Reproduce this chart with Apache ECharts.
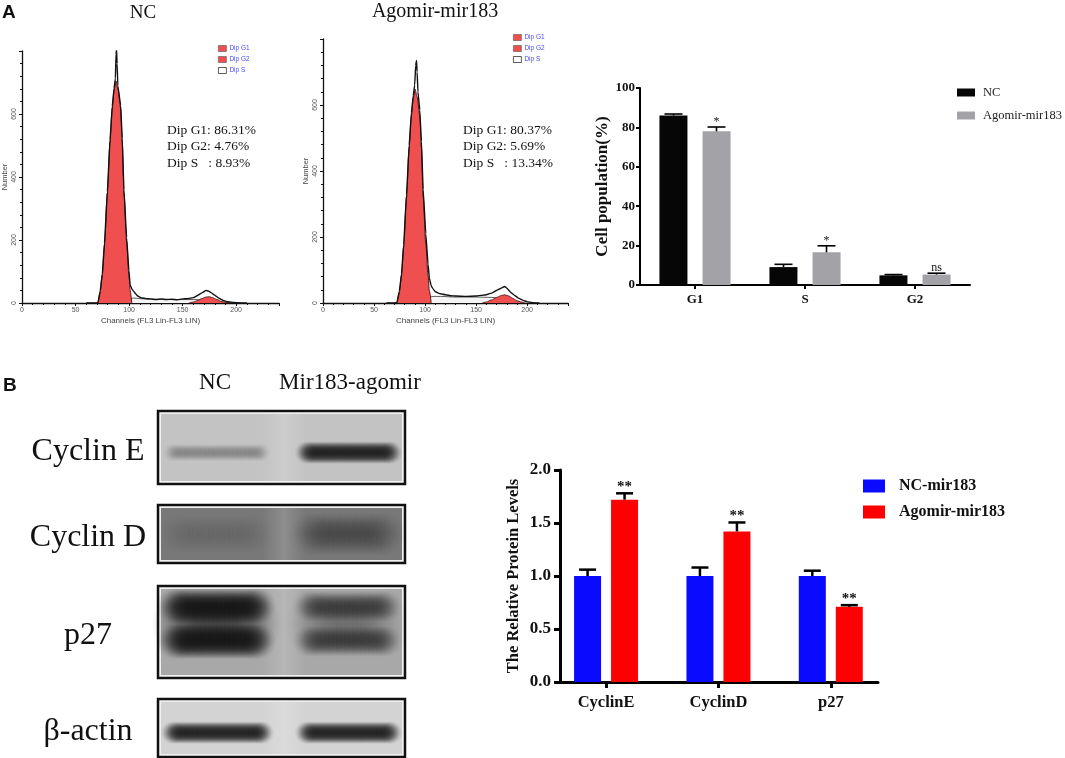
<!DOCTYPE html>
<html><head><meta charset="utf-8">
<script src="https://cdn.jsdelivr.net/npm/echarts@6/dist/echarts.min.js"></script>
<style>html,body{margin:0;padding:0;background:#fff}#c{width:1065px;height:758px}</style>
</head><body><div id="c"></div>
<script>
// ================= DATA =================
// Panel A – flow cytometry histograms (channel, count)
const ncTotalX = [60,70,71,73,75,77,79.7,82.2,84.3,86,87.2,87.8,88.3,88.8,89.5,92.1,93.6,95.2,97.7,99.8,101,102.5,104,106,108,112,116,120,125,130,135,140,145,150,155,160,164,168,172,174,176,180,184,188,192,196,200,210];
const ncTotalY = [0,0,2,37,92,188,353,518,625,682,712,790,805,760,690,628,523,360,208,104,58,45,38,30,22,16,14,13,11,13,11,12,10,13,14,17,24,32,40,38,34,25,15,8,4,2,1,0];
const ncG1X = [71,73,75,77,79.7,82.2,84.3,86,87.7,89.5,92.1,93.6,95.2,97.7,99.8,101,102.5];
const ncG1Y = [0,35,90,185,349,513,619,675,705,680,619,513,349,196,90,40,0];
const ncG2X = [156,160,164,168,172,175,178,182,186,190,194];
const ncG2Y = [0,3,8,14,19,20,17,11,5,2,0];
const ncSX = [76,80,90,100,104,110,120,130,140,150,160,170,178,184,190];
const ncSY = [0,2,6,12,16,14,12,11,11,11,11,10,7,3,0];

const agoTotalX = [62,70,72.5,74.8,76.9,79,81.8,84.4,86.6,88.4,89.8,90.8,91.6,92.2,93,94.8,96.4,98.1,100.7,102.9,104.2,106,108,110,115,120,125,130,140,150,160,165,170,174,178,180,184,188,192,196,200,205,212];
const agoTotalY = [0,0,2,36,88,176,328,478,576,628,660,720,735,700,640,585,490,345,210,118,75,52,42,34,28,25,22,21,20,21,25,30,38,44,50,45,32,22,14,8,4,1,0];
const agoG1X = [72.5,74.8,76.9,79,81.8,84.4,86.6,88.4,90.2,92.1,94.8,96.4,98.1,100.7,102.9,104.2,106];
const agoG1Y = [0,32,83,170,321,471,569,620,648,625,569,471,321,180,83,37,0];
const agoG2X = [156,160,165,170,175,178,182,186,190,194,198];
const agoG2Y = [0,3,9,17,23,25,21,14,7,3,0];
const agoSX = [74,80,90,100,104,108,115,130,150,165,175,185,190,196];
const agoSY = [0,3,8,14,18,20,20,18,18,17,14,6,3,0];

const ncStats = ['Dip G1: 86.31%', 'Dip G2: 4.76%', 'Dip S   : 8.93%'];
const agoStats = ['Dip G1: 80.37%', 'Dip G2: 5.69%', 'Dip S   : 13.34%'];

// Panel A – cell population bar chart
const phaseCategories = ['G1', 'S', 'G2'];
const cellNC = [86.0, 9.1, 4.9];
const cellNCErr = [0.8, 1.4, 0.4];
const cellAgo = [78.0, 16.6, 5.3];
const cellAgoErr = [2.2, 3.3, 0.7];
const cellSig = ['*', '*', 'ns'];

// Panel B – western blot band intensities (0..1)
const blotTargets = ['Cyclin E', 'Cyclin D', 'p27', '\u03b2-actin'];
const blotLanes = ['NC', 'Mir183-agomir'];
const blotNC = [0.22, 0.10, 1.0, 1.0];
const blotAgo = [1.0, 0.3, 0.5, 1.0];

// Panel B – relative protein levels
const proteinCategories = ['CyclinE', 'CyclinD', 'p27'];
const protNC = [1.0, 1.0, 1.0];
const protNCErr = [0.06, 0.08, 0.05];
const protAgo = [1.72, 1.42, 0.71];
const protAgoErr = [0.06, 0.085, 0.015];
const protSig = ['**', '**', '**'];

// ================= STYLE / LAYOUT =================
const serif = "'Liberation Serif','DejaVu Serif',serif";
const sans = "'Liberation Sans','DejaVu Sans',sans-serif";
const RED = '#f04f4f';
const pairs = (xs, ys) => xs.map((x, i) => [x, ys[i]]);

function histX(gi) {
  return {
    type: 'value', gridIndex: gi, min: 0, max: 240, interval: 50,
    axisLine: { show: true, lineStyle: { color: '#111', width: 1.3 } },
    axisTick: { show: true, length: 3, lineStyle: { color: '#111' } },
    minorTick: { show: true, splitNumber: 5, length: 2, lineStyle: { color: '#111' } },
    splitLine: { show: false }, minorSplitLine: { show: false },
    axisLabel: { fontSize: 7, color: '#555', margin: 4, fontFamily: sans, showMaxLabel: false },
    name: 'Channels (FL3 Lin-FL3 LIN)', nameLocation: 'middle', nameGap: 14,
    nameTextStyle: { fontSize: 8, color: '#444', fontFamily: sans }
  };
}
function histY(gi) {
  return {
    type: 'value', gridIndex: gi, min: 0, max: 800, interval: 200,
    axisLine: { show: true, lineStyle: { color: '#111', width: 1.3 } },
    axisTick: { show: true, length: 3, lineStyle: { color: '#111' } },
    minorTick: { show: true, splitNumber: 5, length: 2, lineStyle: { color: '#111' } },
    splitLine: { show: false }, minorSplitLine: { show: false },
    axisLabel: { fontSize: 7, color: '#555', margin: 4, rotate: 90, fontFamily: sans, showMaxLabel: false },
    name: 'Number', nameLocation: 'middle', nameGap: 13, nameRotate: 90,
    nameTextStyle: { fontSize: 7.5, color: '#444', fontFamily: sans }
  };
}
function histSeries(gi, sx, sy, g1x, g1y, g2x, g2y, tx, ty) {
  const common = { type: 'line', xAxisIndex: gi, yAxisIndex: gi, showSymbol: false, silent: true, smooth: 0.3, smoothMonotone: 'x' };
  return [
    Object.assign({}, common, { name: 'Dip S', data: pairs(sx, sy), z: 2, color: '#ffffff',
      lineStyle: { color: '#333', width: 0.8 }, areaStyle: { color: '#f4f4f4', opacity: 1 } }),
    Object.assign({}, common, { name: 'Dip G1', data: pairs(g1x, g1y), z: 3, color: RED,
      lineStyle: { color: '#3a1010', width: 0.9 }, areaStyle: { color: RED, opacity: 1 } }),
    Object.assign({}, common, { name: 'Dip G2', data: pairs(g2x, g2y), z: 3, color: RED,
      lineStyle: { color: '#3a1010', width: 0.8 }, areaStyle: { color: RED, opacity: 1 } }),
    Object.assign({}, common, { name: 'data' + gi, data: pairs(tx, ty), z: 4, smooth: 0.1,
      lineStyle: { color: '#111', width: 1.4 } })
  ];
}

function errorBars(name, gi, xs, vals, errs, sig, offset, capHalf, lw, sigFont, sigGap) {
  return {
    type: 'custom', name, xAxisIndex: gi, yAxisIndex: gi, z: 6, silent: true,
    encode: { x: 0, y: 1 },
    data: vals.map((v, i) => [xs[i], v, errs[i]]),
    renderItem(params, api) {
      const xv = api.value(0), v = api.value(1), e = api.value(2);
      const b = api.coord([xv, v]);
      const t = api.coord([xv, v + e]);
      const x = b[0] + offset;
      const children = [
        { type: 'line', shape: { x1: x, y1: b[1], x2: x, y2: t[1] }, style: { stroke: '#000', lineWidth: lw } },
        { type: 'line', shape: { x1: x - capHalf, y1: t[1], x2: x + capHalf, y2: t[1] }, style: { stroke: '#000', lineWidth: lw } }
      ];
      const s = sig ? sig[params.dataIndex] : '';
      if (s) children.push({ type: 'text', style: { text: s, x: x, y: t[1] - sigGap, align: 'center', textAlign: 'center',
        verticalAlign: 'middle', textVerticalAlign: 'middle', font: sigFont, fill: '#111' } });
      return { type: 'group', children };
    }
  };
}

// ---------- graphic: titles, annotations, blot ----------
function txt(text, x, y, font, align, fill) {
  return { type: 'text', silent: true, style: { text, x, y, font, fill: fill || '#111',
    align: align || 'center', textAlign: align || 'center', verticalAlign: 'middle', textVerticalAlign: 'middle' } };
}
const graphics = [];
graphics.push(txt('A', 2, 13, 'bold 19px ' + sans, 'left'));
graphics.push(txt('B', 3, 386, 'bold 19px ' + sans, 'left'));
graphics.push(txt('NC', 143, 13, '19px ' + serif));
graphics.push(txt('Agomir-mir183', 435, 12, '20px ' + serif));
ncStats.forEach((s, i) => graphics.push(txt(s, 167, 130 + i * 16.5, '13.5px ' + serif, 'left')));
agoStats.forEach((s, i) => graphics.push(txt(s, 463, 130 + i * 16.5, '13.5px ' + serif, 'left')));

// blot lane labels
const laneCenters = [215, 350];
blotLanes.forEach((l, i) => graphics.push(txt(l, laneCenters[i], 383, '23px ' + serif)));
// blot rows layout
const boxL = 158, boxR = 405;
const rowLayout = [
  { top: 411, h: 73, bg: '#c3c3c3', bands: [0.57], bh: 15 },
  { top: 505, h: 58, bg: '#787878', bands: [0.5], bh: 36 },
  { top: 586, h: 92, bg: '#a8a8a8', bands: [0.22, 0.6], bh: 24 },
  { top: 699, h: 58, bg: '#d3d3d3', bands: [0.58], bh: 15 }
];
const laneX = [[168, 267], [302, 396]];
// soft band: a dense row of overlapping blurred dots
function softBand(x1, x2, cy, h, a) {
  const r = h * 0.7, step = Math.max(2, h / 6);
  const p = Math.min(0.9, a * 0.36);
  for (let x = x1 + r * 0.35; x <= x2 - r * 0.35 + 0.1; x += step) {
    graphics.push({ type: 'circle', silent: true, shape: { cx: x, cy: cy, r: r },
      style: { fill: { type: 'radial', x: 0.5, y: 0.5, r: 0.5, colorStops: [
        { offset: 0, color: 'rgba(10,10,10,' + p.toFixed(3) + ')' },
        { offset: 0.45, color: 'rgba(10,10,10,' + (p * 0.7).toFixed(3) + ')' },
        { offset: 1, color: 'rgba(10,10,10,0)' } ] } } });
  }
}
blotTargets.forEach((name, r) => {
  const L = rowLayout[r];
  graphics.push({ type: 'rect', silent: true, shape: { x: boxL, y: L.top, width: boxR - boxL, height: L.h },
    style: { fill: '#f0f0f0', stroke: '#111', lineWidth: 2.5 } });
  graphics.push({ type: 'rect', silent: true, shape: { x: boxL + 3, y: L.top + 3, width: boxR - boxL - 6, height: L.h - 6 },
    style: { fill: L.bg } });
  // lighter gap between the lanes (soft horizontal gradient)
  graphics.push({ type: 'rect', silent: true, shape: { x: 262, y: L.top + 3, width: 44, height: L.h - 6 },
    style: { fill: { type: 'linear', x: 0, y: 0, x2: 1, y2: 0, colorStops: [
      { offset: 0, color: 'rgba(255,255,255,0)' }, { offset: 0.5, color: 'rgba(255,255,255,0.16)' },
      { offset: 1, color: 'rgba(255,255,255,0)' } ] } } });
  const vals = [blotNC[r], blotAgo[r]];
  vals.forEach((a, li) => {
    const [x1, x2] = laneX[li];
    if (L.bands.length > 1) {
      const cy1 = L.top + L.h * L.bands[0], cy2 = L.top + L.h * L.bands[1];
      softBand(x1 + 2, x2 - 2, (cy1 + cy2) / 2, (cy2 - cy1) + 8, a * 0.5);
    }
    L.bands.forEach(fy => {
      const cy = L.top + L.h * fy;
      const bh = L.bh * (0.8 + 0.3 * a);
      softBand(x1, x2, cy, bh, a);
    });
  });
  graphics.push(txt(name, 88, L.top + L.h / 2 + 4, '32px ' + serif));
});

const legendNames = { cellNC: 'NC', cellAgo: 'Agomir-mir183', protNC: 'NC-mir183', protAgo: 'Agomir-mir183' };
const histLegendData = [
  { name: 'Dip G1', itemStyle: { color: RED, borderColor: '#555', borderWidth: 0.6 } },
  { name: 'Dip G2', itemStyle: { color: RED, borderColor: '#555', borderWidth: 0.6 } },
  { name: 'Dip S', itemStyle: { color: '#fff', borderColor: '#333', borderWidth: 0.8 } }
];

const option = {
  backgroundColor: '#ffffff',
  animation: false,
  grid: [
    { left: 21, top: 51, width: 258, height: 252 },
    { left: 323, top: 39, width: 245, height: 264 },
    { left: 640, top: 88, width: 330, height: 197 },
    { left: 560, top: 470, width: 318, height: 212 }
  ],
  xAxis: [
    histX(0), histX(1),
    { type: 'category', gridIndex: 2, data: phaseCategories,
      axisLine: { lineStyle: { color: '#000', width: 2 } },
      axisTick: { show: true, alignWithLabel: true, length: 4, lineStyle: { color: '#000', width: 2 } },
      axisLabel: { fontFamily: serif, fontWeight: 'bold', fontSize: 13, color: '#111', margin: 8 } },
    { type: 'value', gridIndex: 3, min: -0.41, max: 2.42,
      axisLine: { show: true, onZero: false, lineStyle: { color: '#000', width: 3 } },
      axisTick: { show: true, customValues: [0, 1, 2], length: 6, lineStyle: { color: '#000', width: 3 } },
      splitLine: { show: false },
      axisLabel: { customValues: [0, 1, 2], formatter: v => proteinCategories[Math.round(v)],
        fontFamily: serif, fontWeight: 'bold', fontSize: 16.5, color: '#111', margin: 12 } }
  ],
  yAxis: [
    histY(0), histY(1),
    { type: 'value', gridIndex: 2, min: 0, max: 100, interval: 20,
      axisLine: { show: true, lineStyle: { color: '#000', width: 2 } },
      axisTick: { show: true, length: 4, lineStyle: { color: '#000', width: 2 } },
      splitLine: { show: false },
      axisLabel: { fontFamily: serif, fontWeight: 'bold', fontSize: 13, color: '#111', margin: 5 },
      name: 'Cell population(%)', nameLocation: 'middle', nameGap: 29, nameRotate: 90,
      nameTextStyle: { fontFamily: serif, fontWeight: 'bold', fontSize: 17, color: '#111' } },
    { type: 'value', gridIndex: 3, min: 0, max: 2, interval: 0.5,
      axisLine: { show: true, onZero: false, lineStyle: { color: '#000', width: 3 } },
      axisTick: { show: true, length: 6, lineStyle: { color: '#000', width: 3 } },
      splitLine: { show: false },
      axisLabel: { fontFamily: serif, fontWeight: 'bold', fontSize: 17, color: '#111', margin: 9, formatter: v => v.toFixed(1) },
      name: 'The Relative Protein Levels', nameLocation: 'middle', nameGap: 38, nameRotate: 90,
      nameTextStyle: { fontFamily: serif, fontWeight: 'bold', fontSize: 16.5, color: '#111' } }
  ],
  legend: [
    { left: 218, top: 45, orient: 'vertical', itemWidth: 8, itemHeight: 6, itemGap: 4, padding: 0, icon: 'rect',
      selectedMode: false, textStyle: { fontSize: 6.5, color: '#4a4aff', fontFamily: sans, padding: [0, 0, 0, -2] },
      data: histLegendData },
    { left: 513, top: 34, orient: 'vertical', itemWidth: 8, itemHeight: 6, itemGap: 4, padding: 0, icon: 'rect',
      selectedMode: false, textStyle: { fontSize: 6.5, color: '#4a4aff', fontFamily: sans, padding: [0, 0, 0, -2] },
      data: histLegendData },
    { left: 957, top: 86, orient: 'vertical', itemWidth: 18, itemHeight: 8, itemGap: 10, padding: 0, icon: 'rect',
      selectedMode: false, data: ['cellNC', 'cellAgo'], formatter: n => legendNames[n],
      textStyle: { fontFamily: serif, fontSize: 12.5, color: '#222', padding: [0, 0, 0, 3] } },
    { left: 863, top: 478, orient: 'vertical', itemWidth: 22, itemHeight: 13, itemGap: 10, padding: 0, icon: 'rect',
      selectedMode: false, data: ['protNC', 'protAgo'], formatter: n => legendNames[n],
      textStyle: { fontFamily: serif, fontSize: 16, fontWeight: 'bold', color: '#111', padding: [0, 0, 0, 9] } }
  ],
  series: [
    ...histSeries(0, ncSX, ncSY, ncG1X, ncG1Y, ncG2X, ncG2Y, ncTotalX, ncTotalY),
    ...histSeries(1, agoSX, agoSY, agoG1X, agoG1Y, agoG2X, agoG2Y, agoTotalX, agoTotalY),
    { type: 'bar', name: 'cellNC', xAxisIndex: 2, yAxisIndex: 2, data: cellNC, barWidth: 28, barGap: '54%',
      itemStyle: { color: '#060606' }, silent: true },
    { type: 'bar', name: 'cellAgo', xAxisIndex: 2, yAxisIndex: 2, data: cellAgo, barWidth: 28, barGap: '54%',
      itemStyle: { color: '#a3a3a7' }, silent: true },
    errorBars('cellNCErr', 2, [0, 1, 2], cellNC, cellNCErr, null, -21.5, 9, 1.6, '13px ' + serif, 4),
    errorBars('cellAgoErr', 2, [0, 1, 2], cellAgo, cellAgoErr, cellSig, 21.5, 9, 1.6, '12px ' + serif, 5),
    { type: 'bar', name: 'protNC', xAxisIndex: 3, yAxisIndex: 3, data: protNC.map((v, i) => [i, v]), barWidth: 27, barGap: '37%',
      itemStyle: { color: '#0a0aff' }, silent: true },
    { type: 'bar', name: 'protAgo', xAxisIndex: 3, yAxisIndex: 3, data: protAgo.map((v, i) => [i, v]), barWidth: 27, barGap: '37%',
      itemStyle: { color: '#ff0000' }, silent: true },
    errorBars('protNCErr', 3, [0, 1, 2], protNC, protNCErr, null, -18.5, 8.5, 2.5, 'bold 15px ' + serif, 6),
    errorBars('protAgoErr', 3, [0, 1, 2], protAgo, protAgoErr, protSig, 18.5, 8.5, 2.5, 'bold 15px ' + serif, 6)
  ],
  graphic: { elements: graphics }
};
const chart = echarts.init(document.getElementById('c'));
chart.setOption(option);
</script>
</body></html>
